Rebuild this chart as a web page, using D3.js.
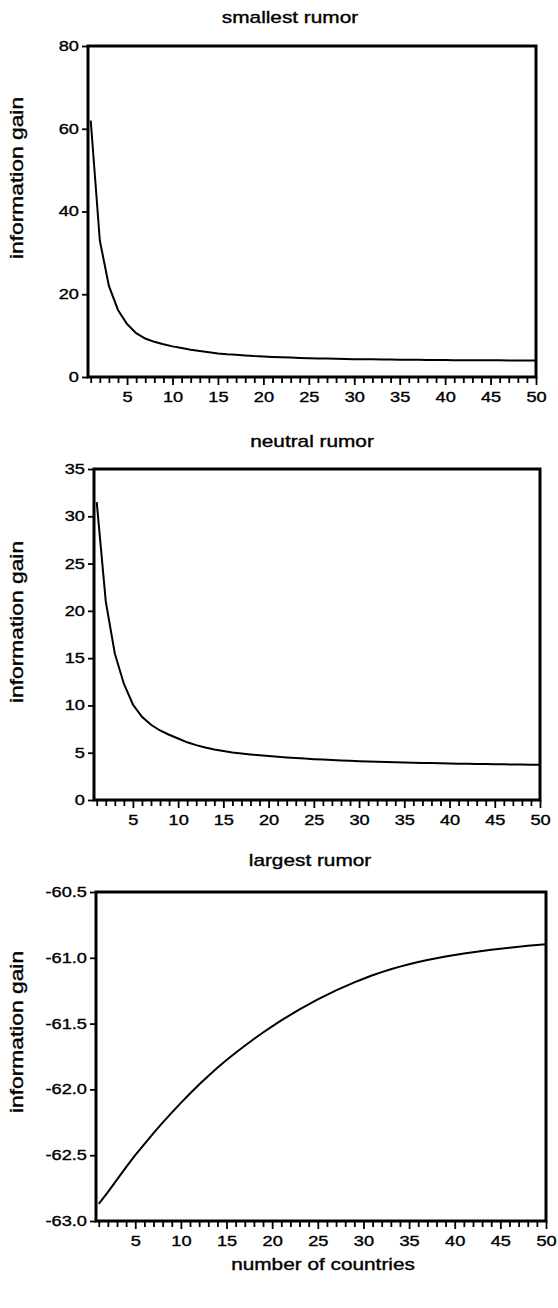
<!DOCTYPE html>
<html lang="en">
  <head>
    <meta charset="UTF-8" />
    <title>information gain vs number of countries</title>
    <script src="https://d3js.org/d3.v7.min.js"></script>
    <style>
      body {
        margin: 0;
        padding: 0;
        background: #fff;
      }
      svg {
        display: block;
        font-family: "Liberation Sans", Arial, Helvetica, sans-serif;
      }
      svg text {
        stroke: #000;
        stroke-width: 0.35px;
      }
    </style>
  </head>
  <body>
    <svg width="558" height="1308"></svg>
    <script>
      // x values: number of countries
      const countries = d3.range(1, 51);
      const xTickLabels = [5, 10, 15, 20, 25, 30, 35, 40, 45, 50];

      // information gain
      const smallest = [
        62, 33, 22, 16.2, 12.8, 10.6, 9.3, 8.5, 7.9, 7.4,
        7.0, 6.6, 6.3, 6.0, 5.7, 5.5, 5.35, 5.2, 5.05, 4.95,
        4.85, 4.77, 4.7, 4.62, 4.55, 4.5, 4.45, 4.4, 4.36, 4.32,
        4.29, 4.26, 4.23, 4.2, 4.18, 4.16, 4.14, 4.12, 4.1, 4.08,
        4.07, 4.06, 4.05, 4.04, 4.03, 4.02, 4.01, 4.0, 4.0, 4.0,
      ];
      const neutral = [
        31.5, 21, 15.5, 12.3, 10.1, 8.8, 7.95, 7.35, 6.9, 6.5,
        6.1, 5.8, 5.55, 5.35, 5.18, 5.03, 4.92, 4.82, 4.73, 4.65,
        4.57, 4.5, 4.44, 4.38, 4.32, 4.27, 4.22, 4.18, 4.14, 4.1,
        4.07, 4.04, 4.01, 3.98, 3.96, 3.94, 3.92, 3.9, 3.88, 3.86,
        3.84, 3.82, 3.81, 3.8, 3.78, 3.77, 3.76, 3.75, 3.74, 3.73,
      ];
      const largest = [
        -62.87, -62.78, -62.685, -62.59, -62.5, -62.415, -62.333, -62.253, -62.176, -62.102,
        -62.031, -61.963, -61.898, -61.836, -61.777, -61.721, -61.668, -61.617, -61.568, -61.521,
        -61.476, -61.433, -61.392, -61.353, -61.316, -61.281, -61.248, -61.217, -61.187, -61.159,
        -61.133, -61.109, -61.087, -61.067, -61.049, -61.032, -61.017, -61.003, -60.99, -60.978,
        -60.967, -60.957, -60.948, -60.939, -60.931, -60.923, -60.916, -60.909, -60.903, -60.897,
      ];

      const smallestTicks = [0, 20, 40, 60, 80];
      const neutralTicks = [0, 5, 10, 15, 20, 25, 30, 35];
      const largestTicks = [-63.0, -62.5, -62.0, -61.5, -61.0, -60.5];

      const panels = [
        {
          title: "smallest rumor",
          values: smallest,
          ticks: smallestTicks,
          fmt: (d) => String(d),
          box: { l: 88, r: 536, t: 46, b: 377 },
          titleX: 290,
          titleY: 23,
          labelY: 178,
        },
        {
          title: "neutral rumor",
          values: neutral,
          ticks: neutralTicks,
          fmt: (d) => String(d),
          box: { l: 94, r: 540, t: 469, b: 800 },
          titleX: 312,
          titleY: 447,
          labelY: 622,
        },
        {
          title: "largest rumor",
          values: largest,
          ticks: largestTicks,
          fmt: (d) => d.toFixed(1),
          box: { l: 96, r: 546, t: 892, b: 1221 },
          titleX: 310,
          titleY: 866,
          labelY: 1032,
        },
      ];

      const svg = d3.select("svg");
      const stretch = "scale(1.3,1)";

      panels.forEach((p) => {
        const b = p.box;
        const x = d3.scaleLinear().domain([0.7, 50]).range([b.l, b.r]);
        const y = d3
          .scaleLinear()
          .domain(d3.extent(p.ticks))
          .range([b.b, b.t]);

        const g = svg.append("g");

        // title
        g.append("text")
          .attr("transform", `translate(${p.titleX},${p.titleY}) ${stretch}`)
          .attr("text-anchor", "middle")
          .attr("font-size", 16)
          .text(p.title);

        // y label
        g.append("text")
          .attr("transform", `translate(23,${p.labelY}) rotate(-90) scale(1.2,1)`)
          .attr("text-anchor", "middle")
          .attr("font-size", 19)
          .text("information gain");

        // y axis
        const yAxis = g
          .append("g")
          .attr("transform", `translate(${b.l},0)`)
          .call(
            d3.axisLeft(y).tickValues(p.ticks).tickFormat(p.fmt).tickSize(6)
          );
        yAxis.select(".domain").remove();
        yAxis.selectAll("line").attr("stroke", "#000").attr("stroke-width", 1.8);
        yAxis
          .selectAll("text")
          .attr("x", -7)
          .attr("transform", stretch)
          .attr("font-size", 14)
          .attr("fill", "#000");

        // x axis with a tick at every country
        const xAxis = g
          .append("g")
          .attr("transform", `translate(0,${b.b})`)
          .call(
            d3
              .axisBottom(x)
              .tickValues(countries)
              .tickFormat((d) => (xTickLabels.includes(d) ? d : ""))
              .tickSize(6)
              .tickPadding(9)
          );
        xAxis.select(".domain").remove();
        xAxis
          .selectAll(".tick line")
          .attr("stroke", "#000")
          .attr("stroke-width", 1.8)
          .attr("y2", (d) => (d % 5 === 0 ? 8 : 6));
        xAxis
          .selectAll("text")
          .attr("transform", stretch)
          .attr("font-size", 14)
          .attr("fill", "#000");

        // frame
        g.append("rect")
          .attr("x", b.l)
          .attr("y", b.t)
          .attr("width", b.r - b.l)
          .attr("height", b.b - b.t)
          .attr("fill", "none")
          .attr("stroke", "#000")
          .attr("stroke-width", 3);

        // curve
        const line = d3
          .line()
          .x((d, i) => x(countries[i]))
          .y((d) => y(d));
        g.append("path")
          .datum(p.values)
          .attr("d", line)
          .attr("fill", "none")
          .attr("stroke", "#000")
          .attr("stroke-width", 2);
      });

      svg
        .append("text")
        .attr("transform", `translate(323,1270) ${stretch}`)
        .attr("text-anchor", "middle")
        .attr("font-size", 16)
        .text("number of countries");
    </script>
  </body>
</html>
